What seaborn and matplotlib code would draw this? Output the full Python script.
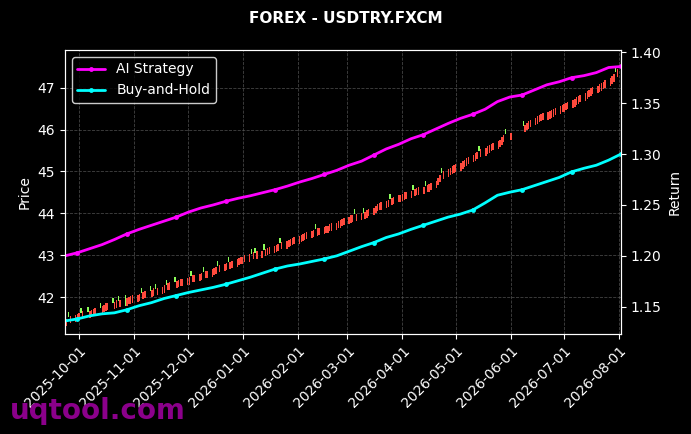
import numpy as np
import pandas as pd
import seaborn as sns
import matplotlib.pyplot as plt
import matplotlib.dates as mdates

# daily candles (business days, Jun 2-5 missing)
bdays = pd.bdate_range("2025-09-24", "2026-07-31")
bdays = bdays[~bdays.isin(pd.to_datetime(["2026-06-02", "2026-06-03", "2026-06-04", "2026-06-05"]))]

close = [
    41.48, 41.52, 41.55, 41.57, 41.60,
    41.61, 41.63, 41.66, 41.64, 41.67, 41.70, 41.72, 41.74, 41.73, 41.78, 41.82, 41.85, 41.87,
    41.86, 41.89, 41.93, 41.90, 41.94, 41.80, 41.97, 42.00, 42.02, 42.04,
    42.05, 42.08, 42.10, 42.12, 42.15, 42.14, 42.18, 42.21, 42.19, 42.23,
    42.25, 42.28, 42.30, 42.33, 42.35, 42.36, 42.39, 42.41, 42.43, 42.44,
    42.45, 42.47, 42.50, 42.52, 42.53, 42.55, 42.58, 42.60, 42.62, 42.63, 42.66, 42.69,
    42.72, 42.74, 42.76, 42.79, 42.82, 42.84, 42.85, 42.87, 42.90, 42.93, 42.95,
    42.97, 43.00, 43.02, 43.04, 43.07, 43.06, 43.09, 43.10, 43.12, 43.15, 43.18,
    43.20, 43.22, 43.24, 43.27, 43.29, 43.31, 43.33, 43.36, 43.39, 43.41, 43.44,
    43.45, 43.48, 43.50, 43.53, 43.55, 43.57, 43.60, 43.62, 43.64, 43.66,
    43.67, 43.69, 43.71, 43.74, 43.76, 43.78, 43.81, 43.83, 43.86, 43.89,
    43.92, 43.95, 43.96, 43.98, 43.99, 44.00, 44.01, 44.03, 44.07, 44.10, 44.14,
    44.18, 44.22, 44.24, 44.26, 44.29, 44.32, 44.35, 44.37, 44.40, 44.43, 44.45,
    44.47, 44.50, 44.52, 44.54, 44.56, 44.58, 44.60, 44.62, 44.63, 44.65, 44.67,
    44.69, 44.72, 44.78, 44.85, 44.92, 44.97, 45.00, 45.05, 45.09, 45.12, 45.15,
    45.17, 45.20, 45.24, 45.28, 45.31, 45.35, 45.40, 45.44, 45.47, 45.50, 45.53,
    45.56, 45.60, 45.63, 45.66, 45.69, 45.72, 45.76, 45.82, 45.88, 45.90,
    45.93, 46.08, 46.12, 46.16, 46.20, 46.24, 46.28, 46.32, 46.36, 46.38,
    46.40, 46.42, 46.44, 46.46, 46.49, 46.52, 46.56, 46.59,
    46.61, 46.64, 46.67, 46.70, 46.73, 46.77, 46.80, 46.83, 46.87, 46.91, 46.95, 46.99,
    47.02, 47.05, 47.08, 47.11, 47.14, 47.18, 47.22, 47.27, 47.32, 47.38, 47.45,
]
opens = [
    41.32, 41.64, 41.38, 41.40, 41.42,
    41.45, 41.75, 41.48, 41.77, 41.50, 41.52, 41.55, 41.57, 41.86, 41.60, 41.64, 41.68, 41.70,
    41.98, 41.72, 41.75, 42.02, 41.77, 42.05, 41.80, 41.83, 41.84, 41.86,
    41.88, 41.91, 42.22, 41.95, 41.97, 42.26, 42.01, 42.03, 42.31, 42.06,
    42.08, 42.10, 42.42, 42.16, 42.18, 42.48, 42.22, 42.24, 42.26, 42.27,
    42.28, 42.30, 42.62, 42.35, 42.36, 42.38, 42.41, 42.72, 42.45, 42.46, 42.49, 42.52,
    42.55, 42.86, 42.59, 42.62, 42.65, 42.96, 42.68, 42.70, 42.73, 42.76, 42.78,
    42.80, 42.83, 42.85, 43.16, 42.90, 43.18, 42.92, 42.93, 43.26, 42.98, 43.01,
    43.03, 43.05, 43.07, 43.10, 43.41, 43.14, 43.16, 43.19, 43.22, 43.24, 43.27,
    43.28, 43.31, 43.33, 43.36, 43.38, 43.40, 43.43, 43.74, 43.47, 43.49,
    43.50, 43.52, 43.54, 43.57, 43.59, 43.61, 43.64, 43.66, 43.69, 43.72,
    43.75, 43.78, 43.79, 44.10, 43.82, 43.83, 44.13, 43.86, 43.90, 43.93, 43.97,
    44.01, 44.05, 44.07, 44.09, 44.12, 44.15, 44.47, 44.20, 44.23, 44.26, 44.28,
    44.30, 44.33, 44.35, 44.37, 44.68, 44.41, 44.43, 44.45, 44.46, 44.77, 44.50,
    44.52, 44.55, 44.60, 44.67, 44.74, 45.09, 44.83, 44.87, 44.91, 44.94, 44.97,
    44.99, 45.02, 45.06, 45.10, 45.13, 45.17, 45.22, 45.26, 45.29, 45.62, 45.35,
    45.38, 45.42, 45.45, 45.48, 45.51, 45.54, 45.58, 45.64, 45.70, 46.02,
    45.76, 46.20, 45.94, 45.98, 46.02, 46.06, 46.10, 46.14, 46.18, 46.20,
    46.22, 46.24, 46.26, 46.28, 46.31, 46.34, 46.38, 46.41,
    46.43, 46.46, 46.49, 46.52, 46.55, 46.59, 46.62, 46.65, 46.69, 46.73, 46.77, 46.81,
    46.84, 46.87, 46.90, 46.93, 46.96, 47.00, 47.04, 47.09, 47.14, 47.50, 47.25,
]

# return curves, roughly weekly
line_dates = pd.date_range("2025-09-23", "2026-08-02", periods=46)
ai_strategy = [
    1.200, 1.203, 1.207, 1.211, 1.216, 1.2215, 1.226, 1.230, 1.234, 1.238,
    1.243, 1.247, 1.250, 1.2535, 1.2565, 1.259, 1.262, 1.265, 1.2685, 1.2725,
    1.276, 1.280, 1.284, 1.289, 1.293, 1.299, 1.305, 1.3095, 1.315, 1.319,
    1.3245, 1.330, 1.335, 1.339, 1.344, 1.3515, 1.356, 1.358, 1.363, 1.368,
    1.371, 1.375, 1.377, 1.380, 1.385, 1.386,
]
buy_hold = [
    1.136, 1.138, 1.141, 1.143, 1.144, 1.147, 1.151, 1.154, 1.158, 1.161,
    1.164, 1.1665, 1.169, 1.172, 1.1755, 1.179, 1.183, 1.187, 1.190, 1.192,
    1.1945, 1.197, 1.200, 1.2045, 1.209, 1.213, 1.218, 1.2215, 1.226, 1.230,
    1.234, 1.238, 1.241, 1.245, 1.252, 1.2595, 1.2625, 1.265, 1.269, 1.273,
    1.277, 1.2825, 1.286, 1.289, 1.294, 1.300,
]

sns.set_style("dark", {"axes.facecolor": "black", "figure.facecolor": "black",
                       "axes.edgecolor": "white", "text.color": "white",
                       "axes.labelcolor": "white", "xtick.color": "white",
                       "ytick.color": "white"})
plt.rcParams["font.family"] = ["DejaVu Sans"]

fig = plt.figure(figsize=(6.91, 4.34), dpi=100)
ax = fig.add_axes([0.094, 0.2304, 0.8047, 0.6544])

o = np.array(opens)
c = np.array(close)
up = c >= o
cols = np.where(up, "#ff4a3d", "#8cff5a")
ax.bar(bdays, np.abs(c - o), bottom=np.minimum(o, c),
       width=0.8, color=cols, linewidth=0)

ax.set_ylim(41.12, 47.9)
ax.set_ylabel("Price", fontsize=10)
ax.grid(True, color="#555555", linestyle="--", linewidth=0.6, alpha=0.8)
ax.xaxis.set_major_locator(mdates.MonthLocator())
ax.xaxis.set_major_formatter(mdates.DateFormatter("%Y-%m-%d"))
ax.set_xlim(line_dates[0], line_dates[-1])
plt.setp(ax.get_xticklabels(), rotation=45, ha="right", rotation_mode="anchor")
ax.tick_params(axis="both", labelsize=10, colors="white", length=3.5, left=True, bottom=True)
for s in ax.spines.values():
    s.set_color("white")

ax2 = ax.twinx()
sns.lineplot(x=line_dates, y=ai_strategy, ax=ax2, color="#ff00ff", linewidth=2,
             marker="o", markersize=3.5, markeredgewidth=0, markevery=slice(1, None, 4),
             label="AI Strategy")
sns.lineplot(x=line_dates, y=buy_hold, ax=ax2, color="#00ffff", linewidth=2,
             marker="o", markersize=3.5, markeredgewidth=0, markevery=slice(1, None, 4),
             label="Buy-and-Hold")
ax2.set_ylim(1.1232, 1.4022)
ax2.set_ylabel("Return", fontsize=10)
ax2.set_xlim(line_dates[0], line_dates[-1])
ax2.tick_params(axis="y", labelsize=10, colors="white", length=3.5, right=True)
for s in ax2.spines.values():
    s.set_color("white")
leg = ax2.legend(loc="upper left", facecolor="black", edgecolor="white",
                 labelcolor="white", fontsize=10)

fig.suptitle("FOREX - USDTRY.FXCM", fontsize=11, fontweight="bold", color="white", y=0.975)
fig.text(0.014, 0.035, "uqtool.com", fontsize=20, fontweight="bold", color="#8b008b")

fig.savefig("out.png", dpi=100, facecolor="black")
